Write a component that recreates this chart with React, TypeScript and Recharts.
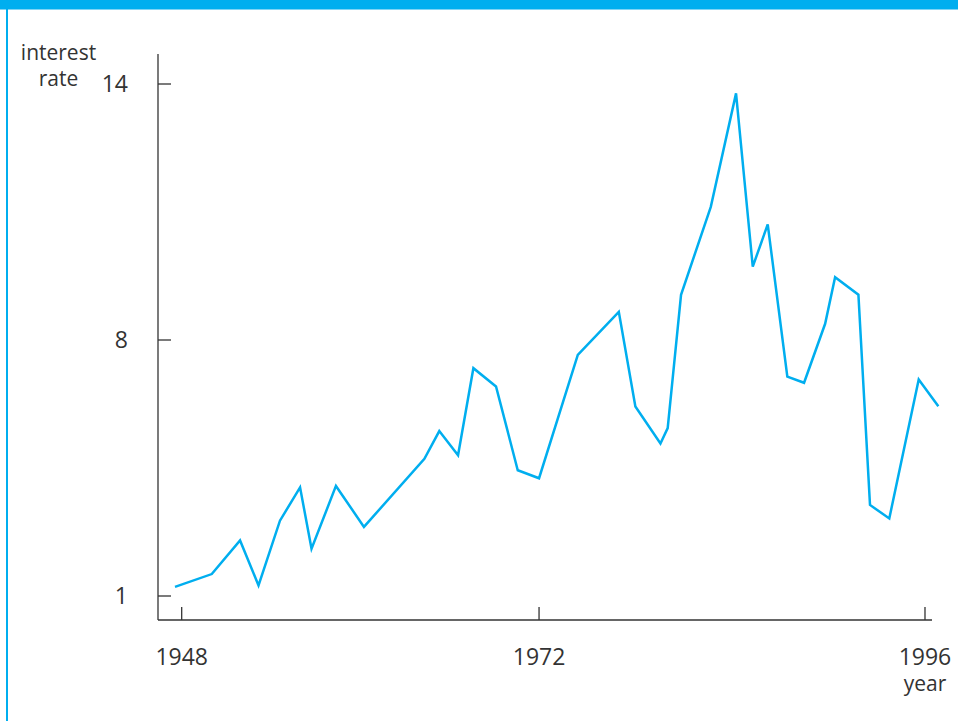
import React from 'react';
import { LineChart, Line, XAxis, YAxis, ReferenceLine } from 'recharts';

// years and rates (one entry per vertex of the line)
const years = [
  1947.55, 1950.02, 1951.92, 1953.16, 1954.6, 1955.95, 1956.72, 1958.36, 1960.24,
  1964.3, 1965.3, 1966.56, 1967.59, 1969.11, 1970.57, 1972.0, 1974.41, 1976.96,
  1977.99, 1979.55, 1980.0, 1980.83, 1982.68, 1984.25, 1985.29, 1986.22, 1987.44,
  1988.48, 1989.79, 1990.41, 1991.86, 1992.58, 1993.78, 1995.61, 1996.83,
];
const rates = [
  1.25, 1.6, 2.52, 1.29, 3.06, 3.97, 2.29, 4.01, 2.89,
  4.75, 5.51, 4.85, 7.23, 6.73, 4.44, 4.22, 7.59, 8.66,
  6.18, 5.17, 5.59, 9.06, 11.12, 13.78, 9.72, 10.71, 7.0,
  6.83, 8.38, 9.47, 9.06, 3.49, 3.12, 6.92, 6.19,
];

const yTicks = [1, 8, 14];
const xTicks = [1948, 1972, 1996];

// the drawing puts ticks at (almost) even spacing, so the axes are piecewise
const xTickStops = [0, 1, 2.08];
const yTickStops = [0, 1, 2];

function piecewise(v: number, ticks: number[], stops: number[]) {
  let i = 0;
  while (i < ticks.length - 2 && v > ticks[i + 1]) i++;
  const t = (v - ticks[i]) / (ticks[i + 1] - ticks[i]);
  return stops[i] + t * (stops[i + 1] - stops[i]);
}

const data = years.map((year, i) => ({
  year,
  x: piecewise(year, xTicks, xTickStops),
  y: piecewise(rates[i], yTicks, yTickStops),
}));

const X_DOMAIN: [number, number] = [-0.0663, 2.122];
const X_AXIS_END = 2.0996;
const Y_DOMAIN: [number, number] = [-0.09375, 2.1172];

const BLUE = '#00AEEF';
const INK = '#333333';
const FONT = '"Open Sans", "Noto Sans", sans-serif';
const PLOT_LEFT = 158;
const PLOT_BOTTOM = 620;
const TICK_LEN = 13;

// eslint-disable-next-line @typescript-eslint/no-explicit-any
const YTick = (props: any) => {
  const { y, index } = props;
  return (
    <g>
      <line x1={PLOT_LEFT} x2={PLOT_LEFT + TICK_LEN} y1={y} y2={y} stroke={INK} strokeWidth={1.3} />
      <text x={128} y={y} dy="0.36em" textAnchor="end" fill={INK} fontSize={23} fontFamily={FONT}>
        {yTicks[index]}
      </text>
    </g>
  );
};

// eslint-disable-next-line @typescript-eslint/no-explicit-any
const XTick = (props: any) => {
  const { x, index } = props;
  return (
    <g>
      <line x1={x} x2={x} y1={PLOT_BOTTOM} y2={PLOT_BOTTOM - TICK_LEN} stroke={INK} strokeWidth={1.3} />
      <text x={x} y={665} textAnchor="middle" fill={INK} fontSize={23} fontFamily={FONT}>
        {xTicks[index]}
      </text>
    </g>
  );
};

const YearLabel = () => (
  <text x={925} y={691} textAnchor="middle" fill={INK} fontSize={21} fontFamily={FONT}>
    year
  </text>
);

const RateLabel = () => (
  <text textAnchor="middle" fill={INK} fontSize={21} fontFamily={FONT}>
    <tspan x={58.5} y={60}>interest</tspan>
    <tspan x={58.5} y={86}>rate</tspan>
  </text>
);

export default function App() {
  return (
    <div style={{ position: 'absolute', left: 0, top: 0, width: 958, height: 721, background: '#fff' }}>
      <div style={{ position: 'absolute', left: 0, top: 0, width: 958, height: 9, background: BLUE }} />
      <div style={{ position: 'absolute', left: 0, top: 9, width: 958, height: 1, background: '#7fd4f5' }} />
      <div style={{ position: 'absolute', left: 6, top: 9, width: 2, height: 712, background: BLUE }} />
      <LineChart width={958} height={721} data={data} margin={{ top: 54, right: 18, bottom: 0, left: 0 }}>
        <XAxis
          dataKey="x"
          type="number"
          domain={X_DOMAIN}
          ticks={xTickStops}
          allowDataOverflow
          height={101}
          axisLine={false}
          tickLine={false}
          tick={<XTick />}
          label={<YearLabel />}
        />
        <YAxis
          dataKey="y"
          type="number"
          domain={Y_DOMAIN}
          ticks={yTickStops}
          allowDataOverflow
          width={158}
          axisLine={{ stroke: INK, strokeWidth: 1.3 }}
          tickLine={false}
          tick={<YTick />}
          label={<RateLabel />}
        />
        <ReferenceLine
          segment={[
            { x: X_DOMAIN[0], y: Y_DOMAIN[0] },
            { x: X_AXIS_END, y: Y_DOMAIN[0] },
          ]}
          stroke={INK}
          strokeWidth={1.3}
          ifOverflow="visible"
        />
        <Line
          type="linear"
          dataKey="y"
          stroke={BLUE}
          strokeWidth={2.5}
          dot={false}
          isAnimationActive={false}
        />
      </LineChart>
    </div>
  );
}
